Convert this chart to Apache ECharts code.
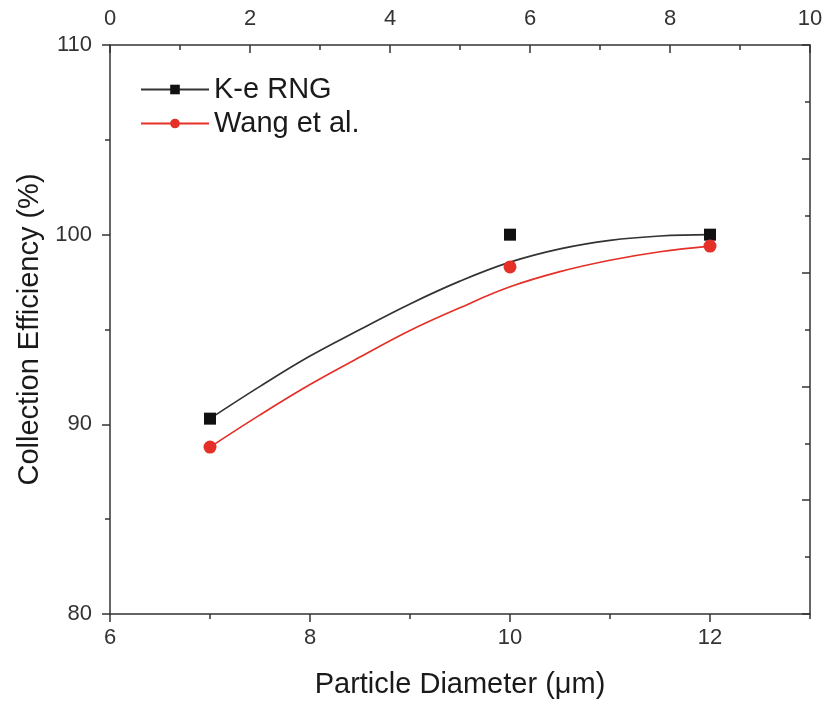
<!DOCTYPE html>
<html>
<head>
<meta charset="utf-8">
<script src="https://cdn.jsdelivr.net/npm/echarts@6/dist/echarts.min.js"></script>
<style>html,body{margin:0;padding:0;background:#fff}#c{width:831px;height:704px}</style>
</head>
<body>
<div id="c"></div>
<script>
// Measured points
const diameters = [7, 10, 12];
const kepsRNG = [90.3, 100, 100];
const wang = [88.8, 98.3, 99.4];
// Fitted curves
const curveX = [7, 7.5, 8, 8.5, 9, 9.5, 10, 10.5, 11, 11.5, 12];
const curveKeps = [90.3, 92.0, 93.6, 95.0, 96.35, 97.55, 98.55, 99.25, 99.7, 99.93, 100];
const curveWang = [88.8, 90.5, 92.1, 93.55, 94.95, 96.15, 97.25, 98.05, 98.65, 99.1, 99.4];

const FONT = 'Liberation Sans, Arial, sans-serif';
const AX = '#333';
const BLACK = '#111';
const RED = '#e53027';

const pair = (xs, ys) => xs.map((x, i) => [x, ys[i]]);

const chart = echarts.init(document.getElementById('c'));
chart.setOption({
  animation: false,
  backgroundColor: '#fff',
  grid: {left: 110, right: 21, top: 45, bottom: 89, containLabel: false},
  legend: {
    orient: 'vertical', left: 135, top: 70, itemWidth: 68, itemHeight: 12, itemGap: 5,
    textStyle: {fontFamily: FONT, fontSize: 29, color: '#1a1a1a'},
    data: ['K-e RNG', 'Wang et al.']
  },
  xAxis: [
    {type: 'value', position: 'bottom', min: 6, max: 13, interval: 2,
     name: 'Particle Diameter (μm)', nameLocation: 'middle', nameGap: 56,
     nameTextStyle: {fontFamily: FONT, fontSize: 29, color: '#1a1a1a'},
     axisLine: {lineStyle: {color: AX, width: 1.5}},
     axisTick: {inside: false, length: 8, lineStyle: {color: AX, width: 1.5}},
     axisLabel: {fontFamily: FONT, fontSize: 22, color: '#333', margin: 13, showMaxLabel: false},
     splitLine: {show: false}},
    {type: 'value', position: 'bottom', min: 6, max: 13, interval: 1,
     axisLine: {show: false},
     axisTick: {inside: false, length: 5, lineStyle: {color: AX, width: 1.5}},
     axisLabel: {show: false}, splitLine: {show: false}},
    {type: 'value', position: 'top', min: 0, max: 10, interval: 2,
     axisLine: {lineStyle: {color: AX, width: 1.5}},
     axisTick: {inside: true, length: 8, lineStyle: {color: AX, width: 1.5}},
     minorTick: {show: true, splitNumber: 2, length: 5, lineStyle: {color: AX, width: 1.5}},
     axisLabel: {fontFamily: FONT, fontSize: 22, color: '#333', margin: 15},
     splitLine: {show: false}}
  ],
  yAxis: [
    {type: 'value', position: 'left', min: 80, max: 110, interval: 10,
     name: 'Collection Efficiency (%)', nameLocation: 'middle', nameGap: 62,
     nameTextStyle: {fontFamily: FONT, fontSize: 29, color: '#1a1a1a'},
     axisLine: {lineStyle: {color: AX, width: 1.5}},
     axisTick: {inside: false, length: 8, lineStyle: {color: AX, width: 1.5}},
     minorTick: {show: true, splitNumber: 2, length: 5, lineStyle: {color: AX, width: 1.5}},
     axisLabel: {fontFamily: FONT, fontSize: 22, color: '#333', margin: 18},
     splitLine: {show: false}},
    {type: 'value', position: 'right', min: 0, max: 10, interval: 2,
     axisLine: {show: true, lineStyle: {color: AX, width: 1.5}},
     axisTick: {inside: true, length: 8, lineStyle: {color: AX, width: 1.5}},
     minorTick: {show: true, splitNumber: 2, length: 5, lineStyle: {color: AX, width: 1.5}},
     axisLabel: {show: false}, splitLine: {show: false}}
  ],
  series: [
    {name: 'K-e RNG', type: 'line', xAxisIndex: 0, yAxisIndex: 0, smooth: 0.4,
     data: pair(curveX, curveKeps), showSymbol: false, symbol: 'rect', symbolSize: 11,
     itemStyle: {color: BLACK}, lineStyle: {color: '#333', width: 1.7}, z: 2},
    {name: 'Wang et al.', type: 'line', xAxisIndex: 0, yAxisIndex: 0, smooth: 0.4,
     data: pair(curveX, curveWang), showSymbol: false, symbol: 'circle', symbolSize: 13,
     itemStyle: {color: RED}, lineStyle: {color: RED, width: 1.7}, z: 2},
    {name: 'K-e RNG', type: 'scatter', xAxisIndex: 0, yAxisIndex: 0,
     data: pair(diameters, kepsRNG), symbol: 'rect', symbolSize: 12,
     itemStyle: {color: BLACK, opacity: 1}, z: 3},
    {name: 'Wang et al.', type: 'scatter', xAxisIndex: 0, yAxisIndex: 0,
     data: pair(diameters, wang), symbol: 'circle', symbolSize: 13,
     itemStyle: {color: RED, opacity: 1}, z: 4}
  ]
});
</script>
</body>
</html>
